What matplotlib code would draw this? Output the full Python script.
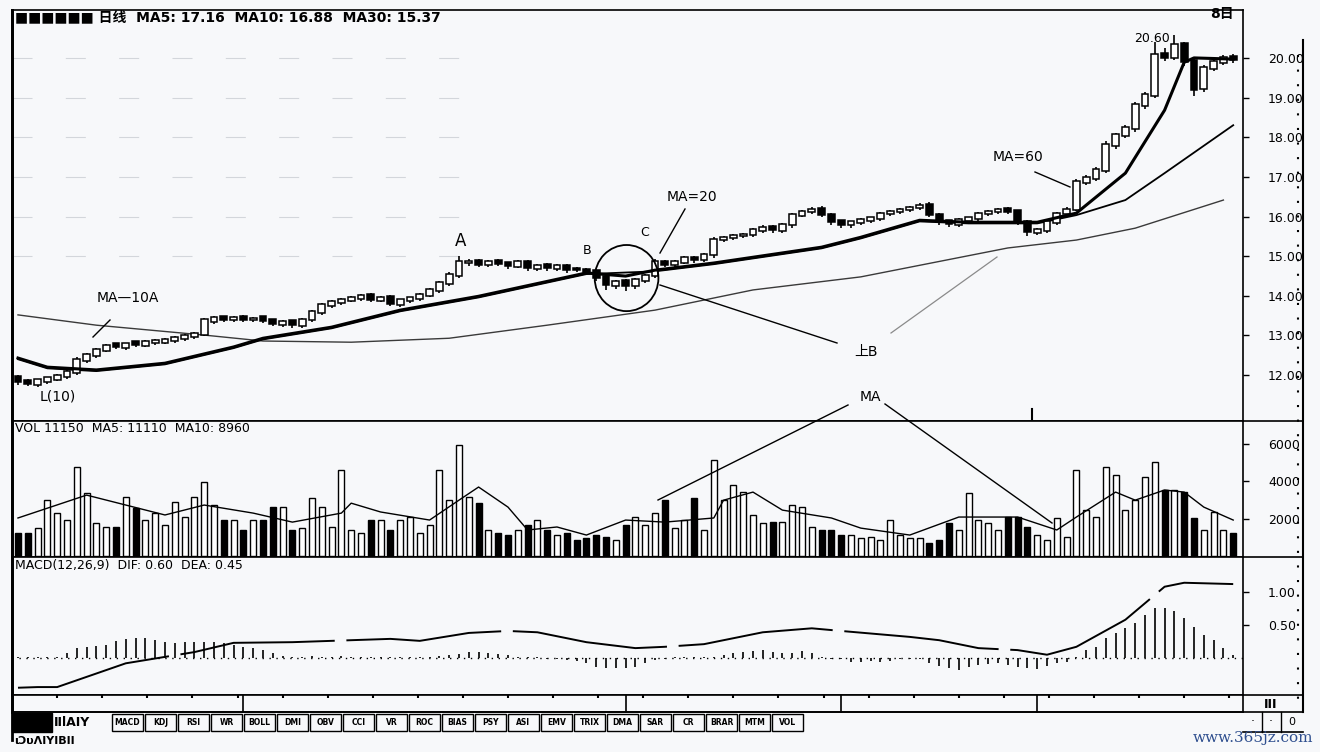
import numpy as np
import matplotlib
matplotlib.use("Agg")
import matplotlib.pyplot as plt
from matplotlib.patches import Ellipse, Rectangle

plt.rcParams['font.family'] = ['DejaVu Sans', 'Noto Sans CJK SC']

# daily candles (price)
opens = [11.95, 11.85, 11.75, 11.82, 11.88, 11.95, 12.05, 12.35, 12.48, 12.62,
         12.78, 12.68, 12.82, 12.74, 12.80, 12.82, 12.85, 12.90, 12.95, 13.02,
         13.35, 13.46, 13.38, 13.47, 13.38, 13.45, 13.38, 13.27, 13.36, 13.25,
         13.38, 13.58, 13.75, 13.82, 13.88, 13.92, 14.02, 13.88, 13.96, 13.78,
         13.87, 13.92, 14.00, 14.13, 14.30, 14.50, 14.82, 14.88, 14.77, 14.88,
         14.82, 14.74, 14.86, 14.69, 14.78, 14.69, 14.76, 14.68, 14.66, 14.62,
         14.46, 14.26, 14.38, 14.24, 14.38, 14.50, 14.86, 14.77, 14.84, 14.96,
         14.90, 15.02, 15.40, 15.45, 15.50, 15.53, 15.65, 15.73, 15.65, 15.78,
         16.02, 16.11, 16.20, 16.05, 15.88, 15.78, 15.85, 15.90, 15.95, 16.06,
         16.11, 16.16, 16.21, 16.30, 16.05, 15.88, 15.80, 15.90, 15.95, 16.06,
         16.11, 16.20, 16.13, 15.87, 15.60, 15.65, 15.85, 16.06, 16.18, 16.85,
         16.95, 17.16, 17.78, 18.04, 18.22, 18.80, 19.05, 20.10, 20.00, 20.35,
         19.92, 19.22, 19.74, 19.88, 20.02]
closes = [11.82, 11.77, 11.87, 11.92, 11.97, 12.08, 12.38, 12.51, 12.63, 12.73,
          12.71, 12.78, 12.76, 12.83, 12.86, 12.88, 12.93, 12.98, 13.04, 13.39,
          13.44, 13.39, 13.44, 13.39, 13.41, 13.36, 13.29, 13.34, 13.26, 13.39,
          13.59, 13.77, 13.84, 13.89, 13.94, 13.99, 13.89, 13.94, 13.79, 13.89,
          13.94, 14.02, 14.15, 14.32, 14.53, 14.85, 14.85, 14.78, 14.85, 14.80,
          14.75, 14.85, 14.70, 14.75, 14.70, 14.75, 14.65, 14.65, 14.60, 14.45,
          14.27, 14.35, 14.25, 14.40, 14.50, 14.85, 14.78, 14.85, 14.95, 14.90,
          15.03, 15.41, 15.46, 15.51, 15.54, 15.66, 15.71, 15.66, 15.79, 16.04,
          16.12, 16.17, 16.04, 15.86, 15.79, 15.86, 15.91, 15.96, 16.07, 16.12,
          16.17, 16.22, 16.27, 16.04, 15.86, 15.81, 15.91, 15.96, 16.07, 16.12,
          16.17, 16.12, 15.86, 15.61, 15.66, 15.86, 16.07, 16.17, 16.87, 16.97,
          17.18, 17.81, 18.06, 18.24, 18.82, 19.07, 20.08, 20.01, 20.33, 19.90,
          19.20, 19.75, 19.90, 20.01, 19.95]
highs = [12.00, 11.90, 11.90, 11.96, 12.02, 12.12, 12.45, 12.56, 12.68, 12.78,
         12.82, 12.82, 12.86, 12.88, 12.90, 12.93, 12.98, 13.03, 13.08, 13.45,
         13.50, 13.50, 13.48, 13.51, 13.46, 13.49, 13.42, 13.38, 13.40, 13.43,
         13.64, 13.82, 13.89, 13.95, 14.00, 14.06, 14.08, 13.99, 14.01, 13.93,
         13.98, 14.07, 14.20, 14.38, 14.60, 15.00, 14.92, 14.93, 14.90, 14.93,
         14.86, 14.90, 14.90, 14.80, 14.82, 14.80, 14.80, 14.72, 14.70, 14.66,
         14.50, 14.40, 14.42, 14.45, 14.56, 14.92, 14.90, 14.90, 15.00, 15.00,
         15.08, 15.48, 15.52, 15.56, 15.60, 15.72, 15.78, 15.78, 15.84, 16.10,
         16.18, 16.24, 16.26, 16.10, 15.92, 15.90, 15.96, 16.00, 16.12, 16.17,
         16.22, 16.27, 16.35, 16.36, 16.10, 15.92, 15.96, 16.00, 16.12, 16.17,
         16.22, 16.25, 16.18, 15.92, 15.72, 15.92, 16.12, 16.24, 16.95, 17.05,
         17.25, 17.90, 18.12, 18.32, 18.90, 19.15, 20.40, 20.25, 20.60, 20.42,
         19.98, 19.82, 19.98, 20.08, 20.10]
lows = [11.76, 11.72, 11.70, 11.78, 11.84, 11.90, 12.00, 12.30, 12.44, 12.58,
        12.66, 12.64, 12.70, 12.70, 12.76, 12.78, 12.81, 12.86, 12.91, 12.98,
        13.30, 13.34, 13.34, 13.34, 13.33, 13.31, 13.24, 13.22, 13.20, 13.20,
        13.34, 13.52, 13.70, 13.78, 13.84, 13.88, 13.84, 13.84, 13.74, 13.73,
        13.82, 13.88, 13.96, 14.08, 14.26, 14.45, 14.76, 14.72, 14.72, 14.75,
        14.69, 14.70, 14.64, 14.64, 14.64, 14.64, 14.58, 14.60, 14.54, 14.38,
        14.16, 14.18, 14.12, 14.18, 14.33, 14.44, 14.72, 14.72, 14.80, 14.84,
        14.85, 14.96, 15.35, 15.40, 15.45, 15.48, 15.60, 15.60, 15.60, 15.72,
        15.98, 16.06, 15.98, 15.80, 15.72, 15.72, 15.80, 15.85, 15.90, 16.01,
        16.06, 16.11, 16.16, 15.98, 15.78, 15.74, 15.74, 15.85, 15.90, 16.01,
        16.06, 16.06, 15.80, 15.52, 15.54, 15.60, 15.80, 16.00, 16.14, 16.80,
        16.90, 17.10, 17.72, 17.98, 18.15, 18.72, 19.00, 19.92, 19.95, 19.80,
        19.05, 19.15, 19.68, 19.84, 19.88]

# moving averages read at a few days
ma5_day = [0, 3, 8, 15, 22, 25, 32, 39, 47, 58, 62, 65, 71, 82, 86, 92, 97, 104, 108, 113, 117, 119, 120, 124]
ma5_val = [12.43, 12.20, 12.13, 12.30, 12.71, 12.93, 13.21, 13.64, 13.99, 14.58, 14.50, 14.65,
           14.83, 15.23, 15.48, 15.91, 15.86, 15.86, 16.09, 17.10, 18.69, 19.90, 20.01, 19.98]
ma10_day = [0, 3, 8, 15, 22, 25, 32, 39, 47, 58, 65, 71, 82, 86, 92, 97, 104, 108, 113, 117, 124]
ma10_val = [12.40, 12.17, 12.10, 12.27, 12.68, 12.90, 13.18, 13.61, 13.96, 14.55, 14.62, 14.80,
            15.20, 15.45, 15.88, 15.83, 15.83, 16.04, 16.42, 17.10, 18.31]
ma30_day = [0, 8, 19, 25, 34, 44, 54, 65, 75, 86, 101, 108, 114, 123]
ma30_val = [13.52, 13.26, 13.01, 12.86, 12.83, 12.93, 13.26, 13.64, 14.15, 14.48, 15.21, 15.41, 15.71, 16.42]

volume = [1230, 1230, 1490, 2980, 2290, 1920, 4740, 3360, 1760, 1550,
          1550, 3140, 2560, 1920, 2290, 1650, 2880, 2080, 3140, 3940,
          2720, 1920, 1920, 1390, 1920, 1920, 2610, 2610, 1390, 1490,
          3090, 2610, 1550, 4580, 1390, 1230, 1920, 1920, 1390, 1920,
          2080, 1230, 1650, 4580, 2980, 5920, 3140, 2820, 1390, 1230,
          1120, 1390, 1650, 1920, 1390, 1120, 1230, 850, 960, 1120,
          1010, 850, 1650, 2080, 1650, 2290, 2980, 1490, 1920, 3090,
          1390, 5120, 2980, 3780, 3410, 2190, 1760, 1810, 1810, 2720,
          2610, 1550, 1390, 1390, 1120, 1120, 960, 1010, 850, 1920,
          1120, 960, 960, 690, 850, 1760, 1390, 3360, 1920, 1760,
          1390, 2080, 2080, 1550, 1120, 850, 2030, 1010, 4580, 2450,
          2080, 4740, 4320, 2450, 2980, 4210, 5010, 3520, 3520, 3410,
          2030, 1390, 2350, 1390, 1230]
vol_ma_day = [0, 7, 11, 15, 19, 24, 28, 33, 34, 37, 42, 45, 47, 50, 52, 55, 58, 62, 66, 71, 72, 75,
              78, 83, 86, 91, 96, 102, 106, 108, 112, 114, 117, 119, 121, 124]
vol_ma_val = [2030, 3250, 2720, 2190, 2720, 2290, 1810, 2290, 2820, 2350, 1920, 2980, 3680, 2610,
              1390, 1550, 1120, 1920, 1810, 2030, 2980, 3410, 2450, 2030, 1490, 1120, 2080, 2080,
              1390, 2080, 3410, 2980, 3520, 3410, 2610, 1920]

macd_hist = [0.01, 0.01, 0.01, 0.01, 0.02, 0.08, 0.15, 0.17, 0.18, 0.20,
             0.26, 0.29, 0.30, 0.30, 0.27, 0.24, 0.23, 0.24, 0.24, 0.24,
             0.24, 0.23, 0.20, 0.17, 0.15, 0.12, 0.08, 0.03, 0.02, 0.02,
             0.03, 0.02, 0.02, 0.03, 0.02, 0.02, 0.01, 0.02, 0.02, 0.01,
             0.02, 0.01, 0.02, 0.03, 0.05, 0.06, 0.09, 0.09, 0.08, 0.06,
             0.04, 0.02, 0.01, 0.02, -0.01, -0.02, -0.03, -0.05, -0.08, -0.14,
             -0.15, -0.15, -0.15, -0.14, -0.08, -0.03, -0.01, 0.01, 0.01, 0.01,
             0.02, 0.02, 0.05, 0.08, 0.09, 0.11, 0.12, 0.09, 0.08, 0.08,
             0.11, 0.08, 0.02, -0.01, -0.01, -0.06, -0.06, -0.05, -0.06, -0.05,
             -0.02, -0.01, -0.02, -0.08, -0.12, -0.15, -0.18, -0.14, -0.11, -0.09,
             -0.08, -0.11, -0.14, -0.15, -0.17, -0.12, -0.08, -0.06, 0.01, 0.12,
             0.17, 0.30, 0.38, 0.45, 0.53, 0.65, 0.76, 0.76, 0.71, 0.61,
             0.47, 0.35, 0.27, 0.15, 0.05]
dif_day = [0, 2, 4, 11, 18, 22, 28, 38, 41, 46, 50, 53, 58, 63, 66, 70, 76, 81, 84, 91, 94, 98,
           102, 105, 108, 113, 117, 119, 124]
dif_val = [-0.45, -0.44, -0.44, -0.08, 0.09, 0.23, 0.24, 0.29, 0.26, 0.38, 0.41, 0.39, 0.24,
           0.15, 0.17, 0.21, 0.39, 0.45, 0.41, 0.32, 0.27, 0.15, 0.12, 0.05, 0.17, 0.58, 1.08, 1.14, 1.12]

price_ticks = [12, 13, 14, 15, 16, 17, 18, 19, 20]
vol_ticks = [2000, 4000, 6000]
macd_ticks = [0.5, 1.0]
month_start = [23, 62, 84, 104]
tab_names = ["MACD", "KDJ", "RSI", "WR", "BOLL", "DMI", "OBV", "CCI", "VR", "ROC", "BIAS",
             "PSY", "ASI", "EMV", "TRIX", "DMA", "SAR", "CR", "BRAR", "MTM", "VOL"]

W, H = 1320, 752
BG = '#f7f8fa'


def rect(l, t, r, b):
    return [l / W, 1 - b / H, (r - l) / W, (b - t) / H]


def style_panel(ax):
    ax.set_facecolor(BG)
    for s in ax.spines.values():
        s.set_linewidth(1.2)
    ax.spines['left'].set_linewidth(2.0)
    ax.yaxis.tick_right()
    ax.tick_params(axis='y', direction='out', length=4, pad=14, labelsize=9, width=1)
    ax.tick_params(axis='x', bottom=False, labelbottom=False)


fig = plt.figure(figsize=(W / 100, H / 100), dpi=100, facecolor=BG)

ax_p = fig.add_axes(rect(12, 10, 1243, 421))
ax_v = fig.add_axes(rect(12, 421, 1243, 557), sharex=ax_p)
ax_m = fig.add_axes(rect(12, 557, 1243, 695), sharex=ax_p)
ax_d = fig.add_axes(rect(12, 695, 1243, 712), sharex=ax_p)
for ax in (ax_p, ax_v, ax_m, ax_d):
    style_panel(ax)

days = np.arange(len(closes))
o = np.array(opens)
c = np.array(closes)
up = c >= o

# price panel
ax_p.hlines(price_ticks[3:], -0.6, 45, colors='#d3d6db', lw=0.8, linestyles=(0, (18, 30)))
ax_p.vlines(days, lows, highs, color='black', lw=1.2, zorder=2)
ax_p.bar(days, np.abs(c - o) + 0.03, bottom=np.minimum(o, c), width=0.7,
         color=np.where(up, 'white', 'black'), edgecolor='black', lw=1.1, zorder=3)
ax_p.plot(ma30_day, ma30_val, color='#3a3a3a', lw=1.0, zorder=1)
ax_p.plot(ma10_day, ma10_val, color='black', lw=1.3, zorder=1)
ax_p.plot(ma5_day, ma5_val, color='black', lw=2.2, zorder=4)
ax_p.add_patch(Ellipse((62.1, 14.45), 6.5, 1.67, fill=False, ec='black', lw=1.3, zorder=5))
ax_p.set_xlim(-0.61, 125.0)
ax_p.set_ylim(10.84, 21.22)
ax_p.set_yticks(price_ticks)
ax_p.set_yticklabels([f"{p:.2f}" for p in price_ticks])

# volume panel
ax_v.bar(days, volume, width=0.62, color=np.where(up, 'white', 'black'),
         edgecolor='black', lw=1.0)
ax_v.plot(vol_ma_day, vol_ma_val, color='black', lw=1.0)
ax_v.set_ylim(-50, 7200)
ax_v.set_yticks(vol_ticks)
ax_v.set_yticklabels([str(v) for v in vol_ticks])

# macd panel
ax_m.axhline(0, color='black', lw=1.0, ls=(0, (1, 4)))
ax_m.vlines(days, 0, macd_hist, color='black', lw=1.2)
ax_m.plot(dif_day, dif_val, color='black', lw=1.4, ls=(0, (80, 6)))
ax_m.set_ylim(-0.56, 1.53)
ax_m.set_yticks(macd_ticks)
ax_m.set_yticklabels([f"{v:.2f}" for v in macd_ticks])

# date strip
ax_d.set_yticks([])
ax_d.set_xticks(month_start)
ax_d.set_xticks(np.arange(4, 125, 4.6), minor=True)
ax_d.tick_params(axis='x', which='major', top=True, bottom=False, direction='in',
                 length=13, width=1.2, labeltop=False, labelbottom=False)
ax_d.tick_params(axis='x', which='minor', top=True, bottom=False, direction='in',
                 length=2, width=1.5)

# headers
fig.text(15 / W, 1 - 17 / H, "■■■■■■ 日线  MA5: 17.16  MA10: 16.88  MA30: 15.37",
         fontsize=10, fontweight='bold', va='center')
fig.text(15 / W, 1 - 429 / H, "VOL 11150  MA5: 11110  MA10: 8960",
         fontsize=9, va='center')
fig.text(15 / W, 1 - 565 / H, "MACD(12,26,9)  DIF: 0.60  DEA: 0.45",
         fontsize=9, va='center')
fig.text(1222 / W, 1 - 14 / H, "8日", fontsize=10, fontweight='bold', va='center', ha='center')

# overlay for notes and frame pieces
ov = fig.add_axes([0, 0, 1, 1], facecolor='none', zorder=10)
ov.set_xlim(0, W)
ov.set_ylim(H, 0)
ov.axis('off')

notes = [("MA—10A", 128, 298, 10), ("MA=20", 692, 197, 10), ("MA=60", 1018, 157, 10),
         ("A", 461, 241, 12), ("B", 587, 250, 9), ("C", 645, 233, 9), ("L(10)", 58, 397, 10),
         ("上B", 866, 352, 10), ("MA", 870, 397, 10), ("20.60", 1152, 38, 9)]
for txt, x, y, fs in notes:
    ov.text(x, y, txt, fontsize=fs, ha='center', va='center')

lk = dict(color='black', lw=1.0)
ov.plot([110, 93], [320, 337], **lk)
ov.plot([685, 660], [209, 253], **lk)
ov.plot([1035, 1070], [172, 187], **lk)
ov.plot([660, 837], [285, 343], **lk)
ov.plot([891, 997], [333, 257], color='#8a8a8a', lw=0.9)
ov.plot([848, 658], [405, 500], **lk)
ov.plot([885, 1052], [404, 523], **lk)
ov.plot([1032, 1032], [409, 419], color='black', lw=1.5)

# right frame
ov.plot([1303, 1303], [40, 712], color='black', lw=1.5)
ov.plot([1298, 1298], [55, 700], color='black', lw=1.5, ls=(0, (1, 6)))
for y in (421, 557, 695, 712):
    ov.plot([1243, 1303], [y, y], color='black', lw=1.2)
ov.plot([1243, 1303], [732, 732], color='black', lw=1.2)
for x in (1262, 1281):
    ov.plot([x, x], [712, 732], color='black', lw=1.0)
ov.text(1271, 704, "III", fontsize=9, fontweight='bold', ha='center', va='center')
ov.text(1253, 722, "·", fontsize=9, ha='center', va='center')
ov.text(1271, 722, "·", fontsize=9, ha='center', va='center')
ov.text(1292, 722, "0", fontsize=8, ha='center', va='center')

# left frame and bottom tab row
ov.plot([12, 12], [10, 740], color='black', lw=2.0)
ov.plot([12, 1243], [712, 712], color='black', lw=1.2)
ov.add_patch(Rectangle((12, 713), 40, 19, color='black'))
ov.text(54, 722, "IIlAIY", fontsize=9, fontweight='bold', ha='left', va='center')
x0 = 112
for name in tab_names:
    w = 33
    ov.add_patch(Rectangle((x0, 714), w - 2, 17, fill=False, ec='black', lw=1.0))
    ov.text(x0 + (w - 2) / 2, 722.5, name, fontsize=5.5, fontweight='bold',
            ha='center', va='center')
    x0 += w
ov.text(14, 741, "ιϽυΛΙΥΙΒΙΙ", fontsize=8, fontweight='bold', ha='left', va='center')

ov.text(1313, 738, "www.365jz.com", fontsize=11, family='DejaVu Serif',
        color='#2f4f8f', ha='right', va='center')

fig.savefig("out.png", dpi=100, facecolor=BG)
